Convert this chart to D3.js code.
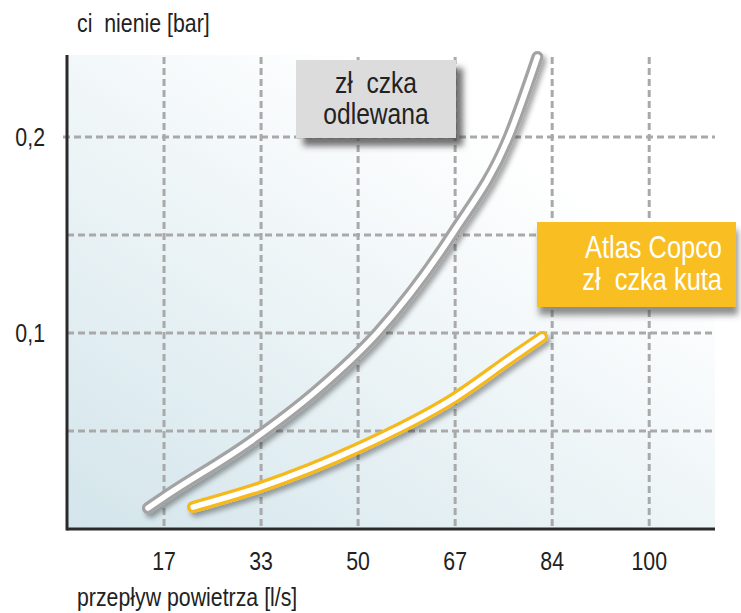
<!DOCTYPE html>
<html>
<head>
<meta charset="utf-8">
<script src="https://cdn.jsdelivr.net/npm/d3@7"></script>
<style>
  body { margin: 0; background: #fff; }
  svg { display: block; font-family: "Liberation Sans", Arial, sans-serif; }
  text { white-space: pre; }
</style>
</head>
<body>
<svg id="chart" width="741" height="613"></svg>
<script>
// values
const xTickValues = [100 / 6, 200 / 6, 50, 400 / 6, 500 / 6, 100];
const xTickLabels = ["17", "33", "50", "67", "84", "100"];
const yGridValues = [0.05, 0.1, 0.15, 0.2];
const yTickValues = [0.1, 0.2];
const yTickLabels = ["0,1", "0,2"];

// odlewana (cast fitting)
const castFlow = [13.9, 16.67, 31.4, 43.0, 53.3, 66.3, 75.8, 80.8];
const castPressure = [0.0107, 0.0163, 0.0444, 0.0709, 0.1, 0.151, 0.1995, 0.2408];

// Atlas Copco kuta (forged fitting)
const forgedFlow = [21.65, 33.2, 50, 66.5, 76.6, 81.6];
const forgedPressure = [0.0112, 0.0214, 0.0413, 0.0668, 0.0878, 0.098];

const margin = { top: 55, right: 26, bottom: 84, left: 67 },
      width = 741 - margin.left - margin.right,
      height = 613 - margin.top - margin.bottom;

// the original uses a condensed sans, so squeeze Liberation Sans horizontally
const narrow = 0.82;

const svg = d3.select("#chart");
const defs = svg.append("defs");

const grad = defs.append("linearGradient")
  .attr("id", "bg")
  .attr("x1", "0%").attr("y1", "100%")
  .attr("x2", "70%").attr("y2", "20%");
grad.append("stop").attr("offset", "0%").attr("stop-color", "#d3e5eb");
grad.append("stop").attr("offset", "100%").attr("stop-color", "#ffffff");

defs.append("filter").attr("id", "curveShadow")
  .attr("x", "-20%").attr("y", "-20%").attr("width", "140%").attr("height", "140%")
  .append("feDropShadow")
  .attr("dx", 3).attr("dy", 4).attr("stdDeviation", 2.5)
  .attr("flood-color", "#000").attr("flood-opacity", 0.35);

defs.append("filter").attr("id", "boxShadow")
  .attr("x", "-20%").attr("y", "-20%").attr("width", "150%").attr("height", "150%")
  .append("feDropShadow")
  .attr("dx", 7).attr("dy", 8).attr("stdDeviation", 3)
  .attr("flood-color", "#444").attr("flood-opacity", 0.75);

defs.append("filter").attr("id", "boxShadow2")
  .attr("x", "-20%").attr("y", "-20%").attr("width", "150%").attr("height", "150%")
  .append("feDropShadow")
  .attr("dx", 2).attr("dy", 8).attr("stdDeviation", 3)
  .attr("flood-color", "#444").attr("flood-opacity", 0.6);

const g = svg.append("g")
  .attr("transform", `translate(${margin.left},${margin.top})`);

const x = d3.scaleLinear().domain([0, 111.3]).range([0, width]);
const y = d3.scaleLinear().domain([0, 0.2418]).range([height, 0]);

// plot background
g.append("rect")
  .attr("width", width)
  .attr("height", height)
  .attr("fill", "url(#bg)");

// dashed grid
g.selectAll(".vgrid")
  .data(xTickValues)
  .enter()
  .append("line")
  .attr("class", "vgrid")
  .attr("x1", d => x(d)).attr("x2", d => x(d))
  .attr("y1", 2).attr("y2", height)
  .attr("stroke", "#a9a9a9")
  .attr("stroke-width", 3)
  .attr("stroke-dasharray", "7,4");

g.selectAll(".hgrid")
  .data(yGridValues)
  .enter()
  .append("line")
  .attr("class", "hgrid")
  .attr("x1", d => d === 0.2 ? -4 : 0).attr("x2", width)
  .attr("y1", d => y(d)).attr("y2", d => y(d))
  .attr("stroke", "#a9a9a9")
  .attr("stroke-width", 3)
  .attr("stroke-dasharray", "7,4");

// axes lines
g.append("line")
  .attr("x1", 0).attr("x2", 0)
  .attr("y1", 0).attr("y2", height + 1.5)
  .attr("stroke", "#2a2a2a")
  .attr("stroke-width", 3);
g.append("line")
  .attr("x1", 0).attr("x2", width)
  .attr("y1", height).attr("y2", height)
  .attr("stroke", "#2a2a2a")
  .attr("stroke-width", 3);

// tick labels
g.selectAll(".xlabel")
  .data(xTickValues)
  .enter()
  .append("text")
  .attr("class", "xlabel")
  .attr("transform", d => `translate(${x(d)},${height + 41}) scale(${narrow},1)`)
  .attr("text-anchor", "middle")
  .style("font-size", "26px")
  .attr("fill", "#222")
  .text((d, i) => xTickLabels[i]);

g.selectAll(".ylabel")
  .data(yTickValues)
  .enter()
  .append("text")
  .attr("class", "ylabel")
  .attr("transform", d => `translate(-22,${y(d) + 9}) scale(${narrow},1)`)
  .attr("text-anchor", "end")
  .style("font-size", "26px")
  .attr("fill", "#222")
  .text((d, i) => yTickLabels[i]);

function label(parent, px, py, str, size, anchor, fill) {
  return parent.append("text")
    .attr("transform", `translate(${px},${py}) scale(${narrow},1)`)
    .attr("text-anchor", anchor)
    .style("font-size", size + "px")
    .attr("fill", fill)
    .text(str);
}

// axis titles
label(svg, 77, 32, "ci  nienie [bar]", 26, "start", "#222");
label(svg, 77, 606, "przepływ powietrza [l/s]", 26, "start", "#222");

// curves
const line = d3.line()
  .x(d => x(d[0]))
  .y(d => y(d[1]))
  .curve(d3.curveMonotoneX);

const castData = castFlow.map((v, i) => [v, castPressure[i]]);
const forgedData = forgedFlow.map((v, i) => [v, forgedPressure[i]]);

function drawTube(data, outer) {
  const tube = g.append("g");
  tube.append("path")
    .attr("d", line(data))
    .attr("fill", "none")
    .attr("stroke", outer)
    .attr("stroke-width", 12)
    .attr("stroke-linecap", "round")
    .attr("filter", "url(#curveShadow)");
  tube.append("path")
    .attr("d", line(data))
    .attr("fill", "none")
    .attr("stroke", "#fff")
    .attr("stroke-width", 5.5)
    .attr("stroke-linecap", "round");
}

drawTube(castData, "#a3a3a3");
drawTube(forgedData, "#f6b91d");

// label boxes
const castBox = svg.append("g").attr("transform", "translate(296,60)");
castBox.append("rect")
  .attr("width", 160).attr("height", 78)
  .attr("fill", "#dcdcdc")
  .attr("filter", "url(#boxShadow)");
label(castBox, 80, 33, "zł  czka", 30, "middle", "#222");
label(castBox, 80, 64, "odlewana", 30, "middle", "#222");

const forgedBox = svg.append("g").attr("transform", "translate(537,222)");
forgedBox.append("rect")
  .attr("width", 199).attr("height", 85)
  .attr("fill", "#f8be22")
  .attr("filter", "url(#boxShadow2)");
label(forgedBox, 185, 36, "Atlas Copco", 31, "end", "#fff");
label(forgedBox, 185, 68, "zł  czka kuta", 31, "end", "#fff");
</script>
</body>
</html>
